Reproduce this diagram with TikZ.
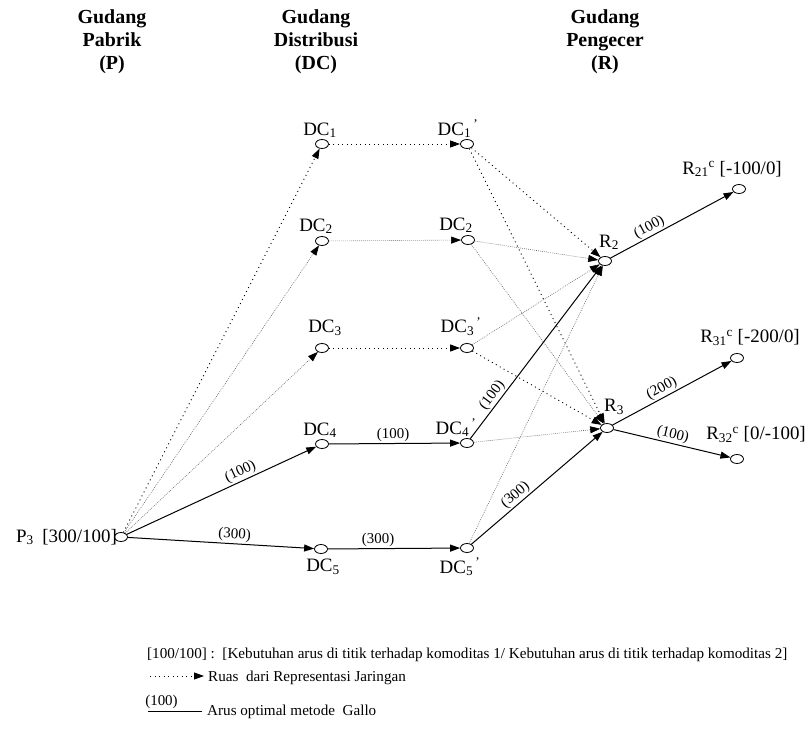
\documentclass[tikz,border=0pt]{standalone}
\usepackage{fontspec}
\setmainfont{Liberation Serif}
\usetikzlibrary{arrows.meta,positioning,shapes.geometric}

\begin{document}
\begin{tikzpicture}[x=1bp,y=-1bp,
  titik/.style={draw, ellipse, minimum width=13bp, minimum height=9bp,
                inner sep=0pt, line width=0.8bp, fill=white},
  nama/.style={font=\fontsize{19}{21}\selectfont, inner sep=1pt},
  judul/.style={font=\fontsize{20}{23.5}\selectfont\bfseries, align=center,
                anchor=north, inner sep=0pt},
  arus/.style={font=\fontsize{15}{17}\selectfont, inner sep=1.5pt, sloped, above},
  ket/.style={font=\fontsize{15.2}{17}\selectfont, inner sep=0pt, anchor=base west},
  opt/.style={-{Triangle[length=10bp,width=7bp]}, line width=1bp},
  ruas/.style={-{Triangle[length=10bp,width=7bp,black]}, line width=0.9bp,
               dash pattern=on 1bp off 3.5bp},
  ruasf/.style={-{Triangle[length=10bp,width=7bp,black]}, line width=0.6bp,
                black!60, dash pattern=on 0.8bp off 1.2bp},
  node distance=0bp
]
\useasboundingbox (0,0) rectangle (809,735);

% judul kolom
\node[judul] (hp)  at (112,9) {Gudang\\Pabrik\\(P)};
\node[judul] (hdc) at (316,9) {Gudang\\Distribusi\\(DC)};
\node[judul] (hr)  at (605,9) {Gudang\\Pengecer\\(R)};

% simpul jaringan
\node[titik] (p3)   at (121,537) {};
\node[titik] (dc1)  at (322,144) {};
\node[titik] (dc2)  at (322,241) {};
\node[titik] (dc3)  at (322,348) {};
\node[titik] (dc4)  at (322,444) {};
\node[titik] (dc5)  at (321,549) {};
\node[titik] (dc1b) at (467,144) {};
\node[titik] (dc2b) at (468,240) {};
\node[titik] (dc3b) at (467,348) {};
\node[titik] (dc4b) at (467,443) {};
\node[titik] (dc5b) at (467,548) {};
\node[titik] (r2)   at (605,261) {};
\node[titik] (r3)   at (607,428) {};
\node[titik] (r21)  at (739,189) {};
\node[titik] (r31)  at (737,358) {};
\node[titik] (r32)  at (737,459) {};

% nama simpul
\node[nama, left=-4bp of p3] (p3t) {P\textsubscript{3}\hspace{0.45em}[300/100]};
\node[nama, above=of dc1, xshift=-2bp] (dc1t) {DC\textsubscript{1}};
\node[nama, above=1bp of dc2, xshift=-6bp] (dc2t) {DC\textsubscript{2}};
\node[nama, above=6bp of dc3, xshift=3bp] (dc3t) {DC\textsubscript{3}};
\node[nama, above=of dc4, xshift=-2bp] (dc4t) {DC\textsubscript{4}};
\node[nama, below=4bp of dc5, xshift=2bp] (dc5t) {DC\textsubscript{5}};
\node[nama, above=of dc1b, xshift=-9bp] (dc1bt) {DC\textsubscript{1}\textsuperscript{\,'}};
\node[nama, above=1bp of dc2b, xshift=-12bp] (dc2bt) {DC\textsubscript{2}};
\node[nama, above=6bp of dc3b, xshift=-6bp] (dc3bt) {DC\textsubscript{3}\textsuperscript{\,'}};
\node[nama, above=of dc4b, xshift=-11bp] (dc4bt) {DC\textsubscript{4}\textsuperscript{\,'}};
\node[nama, below=4bp of dc5b, xshift=-7bp] (dc5bt) {DC\textsubscript{5}\textsuperscript{\,'}};
\node[nama, above=5bp of r2, xshift=4bp] (r2t) {R\textsubscript{2}};
\node[nama, above=7bp of r3, xshift=7bp] (r3t) {R\textsubscript{3}};
\node[nama, above=6bp of r21, xshift=-7bp] (r21t) {R\textsubscript{21}\textsuperscript{c} [-100/0]};
\node[nama, above=6bp of r31, xshift=13bp] (r31t) {R\textsubscript{31}\textsuperscript{c} [-200/0]};
\node[nama, above=10bp of r32, xshift=19bp] (r32t) {R\textsubscript{32}\textsuperscript{c} [0/-100]};

% pabrik ke DC
\draw[ruas]  (p3) -- (dc1);
\draw[ruasf] (p3) -- (dc2);
\draw[ruasf] (p3) -- (dc3);
\draw[opt] (p3) -- node[arus, pos=0.62] {(100)} (dc4);
\draw[opt] (p3) -- node[arus, pos=0.57] {(300)} (dc5);

% DC ke DC'
\draw[ruas]  (dc1) -- (dc1b);
\draw[ruasf] (dc2) -- (dc2b);
\draw[ruas]  (dc3) -- (dc3b);
\draw[opt] (dc4) -- node[arus, pos=0.49] {(100)} (dc4b);
\draw[opt] (dc5) -- node[arus, pos=0.38] {(300)} (dc5b);

% DC' ke pengecer
\draw[ruas]  (dc1b) -- (r2);
\draw[ruas]  (dc1b) -- (r3);
\draw[ruasf] (dc2b) -- (r2);
\draw[ruasf] (dc2b) -- (r3);
\draw[ruasf] (dc3b) -- (r2);
\draw[ruas]  (dc3b) -- (r3);
\draw[opt] (dc4b) -- node[arus, pos=0.22] {(100)} (r2);
\draw[ruasf] (dc4b) -- (r3);
\draw[ruasf] (dc5b) -- (r2);
\draw[opt] (dc5b) -- node[arus, pos=0.38] {(300)} (r3);

% pengecer ke komoditas
\draw[opt] (r2) -- node[arus, pos=0.35] {(100)} (r21);
\draw[opt] (r3) -- node[arus, pos=0.45] {(200)} (r31);
\draw[opt] (r3) -- node[arus, pos=0.49] {(100)} (r32);

% keterangan
\node[ket] (k1) at (147,658) {[100/100] :\ \ [Kebutuhan arus di titik terhadap komoditas 1/ Kebutuhan arus di titik terhadap komoditas 2]};
\coordinate (ka) at (150,676);
\coordinate (kb) at (204,676);
\draw[ruas] (ka) -- (kb);
\node[ket] (k2) at (208,681) {Ruas\ \ dari Representasi Jaringan};
\coordinate (kc) at (148,711);
\coordinate (kd) at (202,711);
\draw[line width=1bp] (kc) -- node[arus, pos=0.25] (k3t) {(100)} (kd);
\node[ket] (k3) at (207,715) {Arus optimal metode\ \ Gallo};
\end{tikzpicture}
\end{document}
